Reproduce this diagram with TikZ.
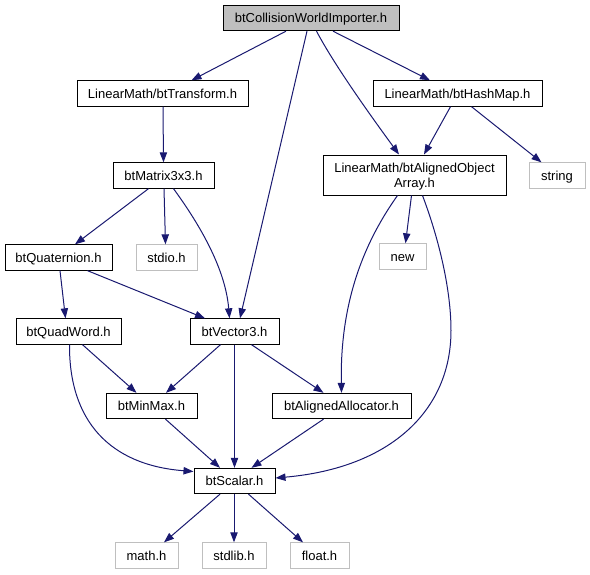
\documentclass[tikz,border=0pt]{standalone}
\usepackage{fontspec}
\setmainfont{Liberation Sans}
\usetikzlibrary{arrows.meta,calc}
\definecolor{edgeblue}{HTML}{191970}
\definecolor{lightbd}{HTML}{BFBFBF}
\definecolor{topfill}{HTML}{BFBFBF}
\tikzset{
  fbox/.style={draw=black,line width=0.75pt,fill=white,inner sep=0pt,minimum height=19pt,
    text height=7pt,text depth=0pt,
    font=\fontsize{9.75}{11.5}\selectfont,align=center},
  gbox/.style={fbox,draw=lightbd},
  topbox/.style={fbox,fill=topfill,draw=black},
  dep/.style={draw=edgeblue,line width=0.75pt,-{Triangle[length=7.5pt,width=5.5pt]},fill=none}
}
\begin{document}
\begin{tikzpicture}[x=0.75pt,y=-0.75pt]
\useasboundingbox (0,0) rectangle (590,575);
% nodes
\node[topbox,minimum width=132pt] (top) at (311,18) {btCollisionWorldImporter.h};
\node[fbox,minimum width=128.25pt] (tr) at (162.5,93.5) {LinearMath/btTransform.h};
\node[fbox,minimum width=126.75pt] (hm) at (457.5,93.5) {LinearMath/btHashMap.h};
\node[fbox,minimum width=137.25pt,minimum height=30pt,text height=18.5pt,text depth=0pt] (aoa) at (414.5,175) {LinearMath/btAlignedObject\\Array.h};
\node[gbox,minimum width=42pt] (str) at (557,175.5) {string};
\node[fbox,minimum width=75.75pt] (m33) at (163.5,175.5) {btMatrix3x3.h};
\node[fbox,minimum width=80.25pt] (quat) at (58.5,257.5) {btQuaternion.h};
\node[gbox,minimum width=45.75pt] (stdio) at (166.5,257.5) {stdio.h};
\node[gbox,minimum width=35.25pt] (new) at (402.5,256.5) {new};
\node[fbox,minimum width=78.75pt] (qw) at (68.5,331.5) {btQuadWord.h};
\node[fbox,minimum width=66.75pt] (v3) at (234.5,331.5) {btVector3.h};
\node[fbox,minimum width=68.25pt] (mm) at (151.5,406) {btMinMax.h};
\node[fbox,minimum width=104.25pt] (aa) at (341.5,406) {btAlignedAllocator.h};
\node[fbox,minimum width=60.75pt] (sc) at (234.5,481) {btScalar.h};
\node[gbox,minimum width=47.25pt] (math) at (146.5,555.5) {math.h};
\node[gbox,minimum width=48pt] (stdlib) at (234,555.5) {stdlib.h};
\node[gbox,minimum width=44.25pt] (float) at (319.5,555.5) {float.h};
% edges
\draw[dep] ($(top.south)+(-25,0)$) -- ($(tr.north)+(29,0)$);
\draw[dep] ($(top.south)+(-4,0)$) -- ($(v3.north)+(5.5,0)$);
\draw[dep] ($(top.south)+(5.5,0)$) .. controls +(18.5,35) and +(-27,-37) .. ($(aoa.north)+(-15.5,0)$);
\draw[dep] ($(top.south)+(22,0)$) -- ($(hm.north)+(-27.5,0)$);
\draw[dep] ($(tr.south)+(0.5,0)$) -- (m33.north);
\draw[dep] ($(hm.south)+(-7,0)$) -- ($(aoa.north)+(9.5,0)$);
\draw[dep] ($(hm.south)+(14,0)$) -- ($(str.north)+(-15.5,0)$);
\draw[dep] ($(m33.south)+(-15,0)$) -- ($(quat.north)+(16.5,0)$);
\draw[dep] ($(m33.south)+(0.5,0)$) -- ($(stdio.north)+(-1,0)$);
\draw[dep] ($(m33.south)+(10,0)$) .. controls +(27,37) and +(-4,-49) .. ($(v3.north)+(-5,0)$);
\draw[dep] ($(quat.south)+(1.5,0)$) -- ($(qw.north)+(-3,0)$);
\draw[dep] ($(quat.south)+(29,0)$) -- ($(v3.north)+(-29.5,0)$);
\draw[dep] ($(aoa.south)+(-3,0)$) -- ($(new.north)+(3,0)$);
\draw[dep] ($(aoa.south)+(-17,0)$) .. controls +(-32,45) and +(-1.7,-93) .. (aa.north);
\draw[dep] ($(aoa.south)+(8,0)$) .. controls +(17,45) and +(0,-40) .. ($(aoa.south)+(36.5,135)$)
   .. controls +(0,80) and +(115,-10) .. ($(sc.east)+(0,-3)$);
\draw[dep] ($(qw.south)+(1,0)$) .. controls +(-0.5,76) and +(-84,-6.5) .. ($(sc.west)+(0,-9.5)$);
\draw[dep] ($(qw.south)+(14,0)$) -- ($(mm.north)+(-15,0)$);
\draw[dep] ($(v3.south)+(-14,0)$) -- ($(mm.north)+(14.5,0)$);
\draw[dep] (v3.south) -- (sc.north);
\draw[dep] ($(v3.south)+(17,0)$) -- ($(aa.north)+(-18,0)$);
\draw[dep] ($(mm.south)+(14,0)$) -- ($(sc.north)+(-14.5,0)$);
\draw[dep] ($(aa.south)+(-18,0)$) -- ($(sc.north)+(17,0)$);
\draw[dep] ($(sc.south)+(-14.5,0)$) -- ($(math.north)+(17.5,0)$);
\draw[dep] ($(sc.south)+(-0.5,0)$) -- (stdlib.north);
\draw[dep] ($(sc.south)+(14,0)$) -- ($(float.north)+(-16.5,0)$);
\end{tikzpicture}
\end{document}
